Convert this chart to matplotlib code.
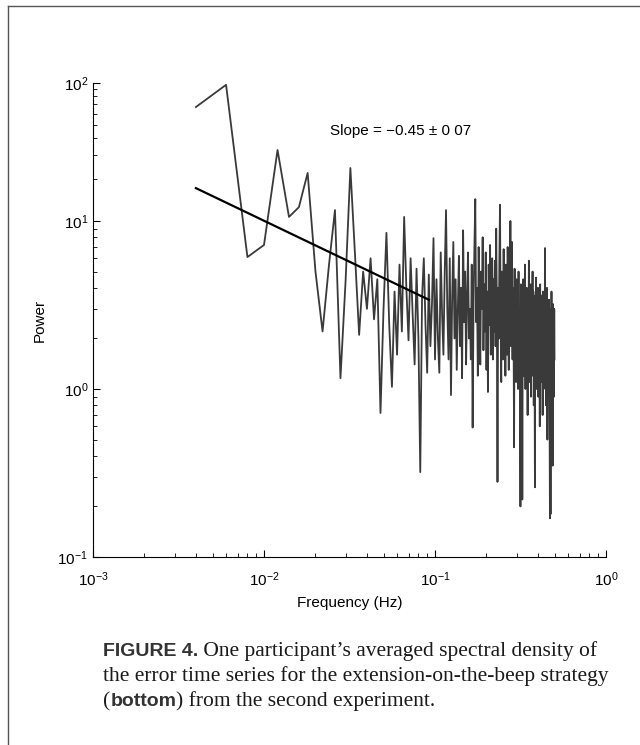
import numpy as np
import matplotlib
matplotlib.use("Agg")
import matplotlib.pyplot as plt
from matplotlib.lines import Line2D
from matplotlib.ticker import LogLocator, LogFormatterSciNotation, NullFormatter

plt.rcParams['font.family'] = ['Liberation Sans', 'DejaVu Sans']
plt.rcParams['mathtext.fontset'] = 'custom'
plt.rcParams['mathtext.rm'] = 'Liberation Sans'
plt.rcParams['mathtext.it'] = 'Liberation Sans:italic'

# ----------------- data -----------------
# spectrum resolution is 0.002 Hz, bins 2..250 (0.004 .. 0.5 Hz)
freq = np.arange(2, 251) * 0.002

power = [
    67.0, 97.0, 6.1, 7.2, 32.7, 10.7, 12.6, 22.3, 5.0,
    2.2, 5.5, 12.0, 1.16, 4.4, 24.2, 6.5, 2.1, 5.0, 3.0,
    6.0, 2.6, 4.5, 0.72, 3.0, 8.5, 2.4, 1.03, 3.8, 1.6,
    5.5, 2.2, 10.7, 4.0, 1.95, 6.0, 2.8, 1.4, 5.2, 2.0,
    0.32, 3.5, 6.0, 2.4, 1.25, 4.8, 1.8, 3.2, 7.9, 1.5,
    4.5, 2.0, 1.25, 6.5, 2.8, 1.6, 5.0, 12.0, 3.0, 1.5,
    6.0, 0.92, 3.5, 7.5, 2.0, 4.5, 1.3, 3.0, 6.2, 1.8,
    4.0, 1.16, 8.8, 2.5, 5.0, 1.4, 3.6, 6.5, 2.0, 3.0,
    1.5, 5.5, 0.59, 3.2, 7.0, 14.4, 2.5, 4.0, 1.2, 7.0,
    2.8, 1.4, 5.0, 3.0, 8.0, 1.7, 4.2, 2.2, 6.5, 1.3,
    3.8, 0.96, 5.5, 2.4, 7.2, 1.6, 3.5, 6.0, 1.5, 4.5,
    2.2, 5.8, 1.8, 9.0, 3.0, 0.28, 4.0, 2.0, 6.0, 13.1,
    2.5, 1.1, 5.0, 3.2, 1.5, 6.8, 2.0, 4.0, 1.2, 5.5,
    2.8, 1.6, 7.0, 3.0, 1.3, 4.8, 2.2, 10.0, 1.8, 3.5,
    7.5, 1.5, 4.0, 2.4, 0.45, 5.2, 2.0, 3.5, 1.1, 4.5,
    2.0, 3.8, 1.0, 5.0, 1.6, 3.0, 1.3, 0.2, 4.2, 2.2,
    3.5, 0.22, 2.8, 4.5, 1.2, 3.6, 1.8, 5.5, 1.0, 3.2,
    1.5, 4.0, 2.2, 0.7, 3.8, 1.6, 5.8, 1.1, 3.0, 2.0,
    4.2, 0.9, 3.4, 1.7, 2.6, 5.0, 1.2, 3.8, 0.8, 3.0,
    1.8, 0.26, 3.6, 1.4, 4.6, 2.0, 1.0, 3.4, 1.6, 4.0,
    0.9, 3.2, 1.5, 2.6, 0.6, 4.2, 1.8, 3.0, 1.1, 3.6,
    1.3, 2.8, 0.7, 3.8, 1.9, 1.0, 3.4, 1.5, 2.4, 6.9,
    1.2, 3.6, 0.8, 2.8, 1.6, 4.0, 0.5, 3.0, 1.3, 2.6,
    0.9, 3.4, 1.6, 0.6, 0.17, 3.0, 0.18, 2.6, 1.1, 3.8,
    0.6, 2.9, 1.4, 0.35, 3.2, 1.0, 2.4, 0.9, 3.0, 1.5,
]

# fitted power law (end points of the drawn line)
fit_freq = [0.004, 0.092]
fit_power = [17.3, 3.4]

slope_text = "Slope = \u22120.45 \u00b1 0 07"

# the scan squeezes the top decade of the y axis (10..100) a bit
squeeze = 138 / 168


def y_fwd(y):
    L = np.log10(np.clip(y, 1e-12, None))
    return np.where(L <= 1, L, 1 + (L - 1) * squeeze)


def y_inv(v):
    v = np.asarray(v, dtype=float)
    return np.where(v <= 1, 10.0 ** v, 10.0 ** (1 + (v - 1) / squeeze))


# ----------------- figure -----------------
fig = plt.figure(figsize=(6.4, 7.45), dpi=100)
ax = fig.add_axes([93 / 640, 1 - 557 / 745, 513 / 640, 474 / 745])

ax.plot(freq, power, color='#3a3a3a', lw=1.3)
ax.plot(fit_freq, fit_power, color='black', lw=1.6)

ax.set_xscale('log')
ax.set_yscale('function', functions=(y_fwd, y_inv))
ax.yaxis.set_major_locator(LogLocator(base=10))
ax.yaxis.set_minor_locator(LogLocator(base=10, subs=np.arange(2, 10)))
ax.yaxis.set_major_formatter(LogFormatterSciNotation())
ax.yaxis.set_minor_formatter(NullFormatter())

ax.set_xlim(1e-3, 1e0)
ax.set_ylim(1e-1, 1e2)
ax.spines['top'].set_visible(False)
ax.spines['right'].set_visible(False)
ax.tick_params(which='both', direction='in', top=False, right=False, labelsize=11)
ax.tick_params(which='major', length=5)
ax.tick_params(which='minor', length=3)
ax.tick_params(axis='x', pad=10)

ax.set_xlabel("Frequency (Hz)", fontsize=11, labelpad=5)
ax.set_ylabel("Power", fontsize=11, labelpad=8)

ax.text(0.462, 0.899, slope_text, transform=ax.transAxes, fontsize=11, va='center')

# border of the scanned page
fig.add_artist(Line2D([8 / 640, 8 / 640], [0, 1 - 6 / 745], color='#555555', lw=1.0))
fig.add_artist(Line2D([8 / 640, 1], [1 - 6 / 745, 1 - 6 / 745], color='#555555', lw=1.0))

# caption, pieces placed one after another
fig.canvas.draw()
renderer = fig.canvas.get_renderer()
serif = dict(family='Liberation Serif', fontsize=15.5, color='#1a1a1a')
bold = dict(family='Liberation Sans', fontsize=14, fontweight='bold', color='#333333')


def put_line(pieces, x0, y0):
    x = x0
    for txt, style in pieces:
        t = fig.text(x, y0, txt, va='baseline', **style)
        bb = t.get_window_extent(renderer)
        x = x + bb.width / fig.bbox.width


put_line([("FIGURE 4.", bold), (" One participant\u2019s averaged spectral density of", serif)],
         103 / 640, 1 - 656 / 745)
put_line([("the error time series for the extension-on-the-beep strategy", serif)],
         103 / 640, 1 - 681 / 745)
put_line([("(", serif), ("bottom", bold), (") from the second experiment.", serif)],
         103 / 640, 1 - 706 / 745)

fig.savefig("out.png", dpi=100)
